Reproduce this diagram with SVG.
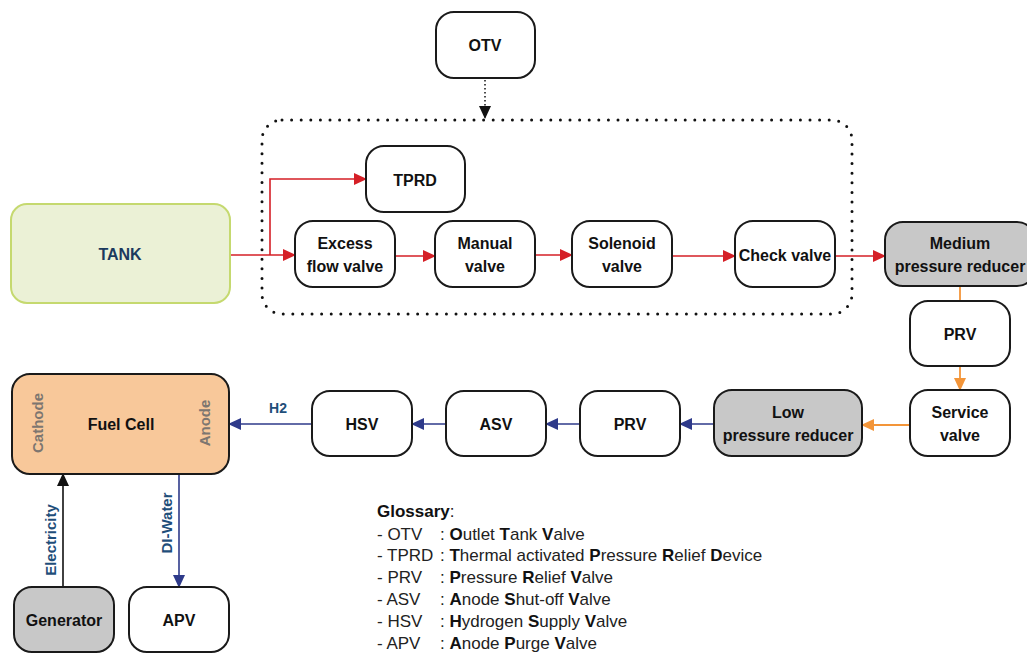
<svg xmlns="http://www.w3.org/2000/svg" width="1027" height="653" viewBox="0 0 1027 653">
<style>
.box{fill:#fff;stroke:#1a1a1a;stroke-width:2}
.gray{fill:#c8c8c8;stroke:#1a1a1a;stroke-width:2}
.t{font-family:"Liberation Sans",Arial,sans-serif;font-weight:bold;font-size:16px;fill:#111;text-anchor:middle}
.red{stroke:#d51f26;stroke-width:1.6;fill:none}
.ora{stroke:#f39539;stroke-width:1.8;fill:none}
.blu{stroke:#2e3a8a;stroke-width:1.6;fill:none}
.blk{stroke:#111;stroke-width:1.6;fill:none}
.lbl{font-family:"Liberation Sans",Arial,sans-serif;font-weight:bold;font-size:15px;fill:#1f4e7a;text-anchor:middle}
.g{font-family:"Liberation Sans",Arial,sans-serif;font-size:17px;fill:#222}
.g tspan.b{font-weight:bold;fill:#111}
</style>
<defs>
<marker id="aR" markerUnits="userSpaceOnUse" markerWidth="14" markerHeight="14" refX="12" refY="7" orient="auto"><path d="M0,1 L13,7 L0,13 Z" fill="#d51f26"/></marker>
<marker id="aO" markerUnits="userSpaceOnUse" markerWidth="14" markerHeight="14" refX="12" refY="7" orient="auto"><path d="M0,1 L13,7 L0,13 Z" fill="#f39539"/></marker>
<marker id="aB" markerUnits="userSpaceOnUse" markerWidth="14" markerHeight="14" refX="12" refY="7" orient="auto"><path d="M0,1 L13,7 L0,13 Z" fill="#2e3a8a"/></marker>
<marker id="aK" markerUnits="userSpaceOnUse" markerWidth="14" markerHeight="14" refX="12" refY="7" orient="auto"><path d="M0,1 L13,7 L0,13 Z" fill="#111"/></marker>
</defs>

<g id="group-boundary">
<rect x="262" y="120" width="590" height="194" rx="20" fill="none" stroke="#111" stroke-width="3" stroke-dasharray="0 9.6" stroke-linecap="round"/>
</g>

<g id="connectors">
<line x1="485" y1="80" x2="485" y2="118" stroke="#111" stroke-width="1.5" stroke-dasharray="1.5 2.5" marker-end="url(#aK)"/>
<line class="red" x1="230" y1="255" x2="295" y2="255" marker-end="url(#aR)"/>
<polyline class="red" points="270,255 270,179 366,179" marker-end="url(#aR)"/>
<line class="red" x1="395" y1="256" x2="435" y2="256" marker-end="url(#aR)"/>
<line class="red" x1="535" y1="255" x2="572" y2="255" marker-end="url(#aR)"/>
<line class="red" x1="672" y1="256" x2="735" y2="256" marker-end="url(#aR)"/>
<line class="red" x1="835" y1="256" x2="885" y2="256" marker-end="url(#aR)"/>
<line class="ora" x1="960" y1="286" x2="960" y2="301"/>
<line class="ora" x1="960" y1="366" x2="960" y2="390" marker-end="url(#aO)"/>
<line class="ora" x1="910" y1="425" x2="862" y2="425" marker-end="url(#aO)"/>
<line class="blu" x1="714" y1="424" x2="680" y2="424" marker-end="url(#aB)"/>
<line class="blu" x1="580" y1="424" x2="546" y2="424" marker-end="url(#aB)"/>
<line class="blu" x1="446" y1="424" x2="412" y2="424" marker-end="url(#aB)"/>
<line class="blu" x1="312" y1="424" x2="229" y2="424" marker-end="url(#aB)"/>
<line class="blu" x1="179" y1="474" x2="179" y2="587" marker-end="url(#aB)"/>
<line class="blk" x1="63" y1="587" x2="63" y2="474" marker-end="url(#aK)"/>
<text class="lbl" x="278" y="413" style="font-size:14px">H2</text>
<text class="lbl" transform="translate(56,540) rotate(-90)">Electricity</text>
<text class="lbl" transform="translate(172,523) rotate(-90)">DI-Water</text>
</g>

<g id="node-otv"><rect class="box" x="436" y="12" width="99" height="66" rx="18"/><text class="t" x="485" y="51">OTV</text></g>
<g id="node-tank"><rect x="11" y="204" width="219" height="99" rx="16" fill="#ebf1d6" stroke="#c5d96f" stroke-width="2"/><text class="t" x="120" y="260" style="fill:#1b3a5e">TANK</text></g>
<g id="node-tprd"><rect class="box" x="366" y="146" width="99" height="66" rx="18"/><text class="t" x="415" y="186">TPRD</text></g>
<g id="node-excess"><rect class="box" x="295" y="221" width="100" height="66" rx="18"/><text class="t" x="345" y="249">Excess</text><text class="t" x="345" y="272">flow valve</text></g>
<g id="node-manual"><rect class="box" x="435" y="221" width="100" height="66" rx="18"/><text class="t" x="485" y="249">Manual</text><text class="t" x="485" y="272">valve</text></g>
<g id="node-solenoid"><rect class="box" x="572" y="221" width="100" height="66" rx="18"/><text class="t" x="622" y="249">Solenoid</text><text class="t" x="622" y="272">valve</text></g>
<g id="node-check"><rect class="box" x="735" y="221" width="100" height="66" rx="18"/><text class="t" x="785" y="261">Check valve</text></g>
<g id="node-medium"><rect class="gray" x="885" y="222" width="150" height="64" rx="18"/><text class="t" x="960" y="249">Medium</text><text class="t" x="960" y="272">pressure reducer</text></g>
<g id="node-prv1"><rect class="box" x="910" y="301" width="100" height="65" rx="18"/><text class="t" x="960" y="340">PRV</text></g>
<g id="node-service"><rect class="box" x="910" y="390" width="100" height="66" rx="18"/><text class="t" x="960" y="418">Service</text><text class="t" x="960" y="441">valve</text></g>
<g id="node-low"><rect class="gray" x="714" y="390" width="148" height="66" rx="18"/><text class="t" x="788" y="418">Low</text><text class="t" x="788" y="441">pressure reducer</text></g>
<g id="node-prv2"><rect class="box" x="580" y="391" width="100" height="65" rx="18"/><text class="t" x="630" y="430">PRV</text></g>
<g id="node-asv"><rect class="box" x="446" y="391" width="100" height="65" rx="18"/><text class="t" x="496" y="430">ASV</text></g>
<g id="node-hsv"><rect class="box" x="312" y="391" width="100" height="65" rx="18"/><text class="t" x="362" y="430">HSV</text></g>
<g id="node-fuelcell"><rect x="12" y="374" width="217" height="100" rx="18" fill="#f8c89a" stroke="#1a1a1a" stroke-width="2"/><text class="t" x="121" y="430">Fuel Cell</text>
<text class="t" transform="translate(43,423) rotate(-90)" style="font-size:15px;fill:#7d7670">Cathode</text>
<text class="t" transform="translate(210,423) rotate(-90)" style="font-size:15px;fill:#7d7670">Anode</text></g>
<g id="node-generator"><rect class="gray" x="14" y="587" width="100" height="65" rx="18"/><text class="t" x="64" y="626">Generator</text></g>
<g id="node-apv"><rect class="box" x="129" y="587" width="100" height="65" rx="18"/><text class="t" x="179" y="626">APV</text></g>

<g id="glossary">
<text class="g" x="377" y="517"><tspan class="b">Glossary</tspan>:</text>
<text class="g" x="377" y="540">- OTV</text><text class="g" x="440" y="540">: <tspan class="b">O</tspan>utlet <tspan class="b">T</tspan>ank <tspan class="b">V</tspan>alve</text>
<text class="g" x="377" y="561">- TPRD</text><text class="g" x="440" y="561">: <tspan class="b">T</tspan>hermal activated <tspan class="b">P</tspan>ressure <tspan class="b">R</tspan>elief <tspan class="b">D</tspan>evice</text>
<text class="g" x="377" y="583">- PRV</text><text class="g" x="440" y="583">:  <tspan class="b">P</tspan>ressure <tspan class="b">R</tspan>elief <tspan class="b">V</tspan>alve</text>
<text class="g" x="377" y="605">- ASV</text><text class="g" x="440" y="605">: <tspan class="b">A</tspan>node <tspan class="b">S</tspan>hut-off <tspan class="b">V</tspan>alve</text>
<text class="g" x="377" y="627">- HSV</text><text class="g" x="440" y="627">: <tspan class="b">H</tspan>ydrogen <tspan class="b">S</tspan>upply <tspan class="b">V</tspan>alve</text>
<text class="g" x="377" y="649">- APV</text><text class="g" x="440" y="649">: <tspan class="b">A</tspan>node <tspan class="b">P</tspan>urge <tspan class="b">V</tspan>alve</text>
</g>
</svg>
